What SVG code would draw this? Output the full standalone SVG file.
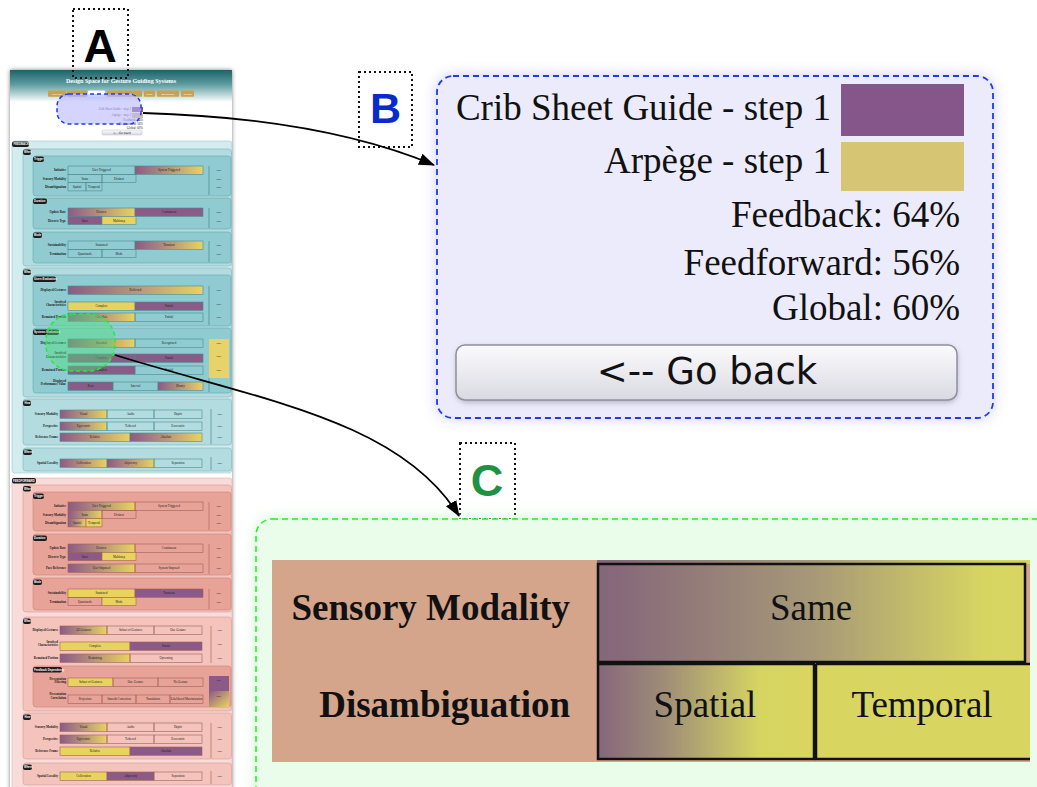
<svg xmlns="http://www.w3.org/2000/svg" width="1037" height="787" viewBox="0 0 1037 787">
<defs>
<style>
.l{font-family:"Liberation Serif",serif;font-size:3.1px;font-weight:bold;fill:#1a1a1a;text-anchor:end}
.t{font-family:"Liberation Serif",serif;font-size:3.1px;fill:#222;text-anchor:middle}
.n{font-family:"Liberation Serif",serif;font-size:2.6px;fill:#333;text-anchor:middle}
.pl{fill:#1c1c1c}
.pt{font-family:"Liberation Sans",sans-serif;font-size:2.8px;font-weight:bold;fill:#fff}
.ob{fill:none;stroke:#4b8d93;stroke-width:0.6}
.of{fill:none;stroke:#a45f55;stroke-width:0.6}
.P{fill:#8b5a86}
.Y{fill:#e8d35f}
.G{fill:url(#gpy)}
.vb{stroke:#3d7c82;stroke-width:0.6}
.vf{stroke:#a45f55;stroke-width:0.6}
.fbo{fill:#d3ecee;stroke:#9fc9cc;stroke-width:0.6}
.fb1{fill:#b2dcdf;stroke:#7fb5ba;stroke-width:0.6}
.fb2{fill:#8fcbd1;stroke:#6aa9ae;stroke-width:0.6}
.ffo{fill:#f8dcd9;stroke:#e0b0aa;stroke-width:0.6}
.ff1{fill:#f3c3bc;stroke:#d79c94;stroke-width:0.6}
.ff2{fill:#e8a398;stroke:#c9837a;stroke-width:0.6}
.nav{fill:#c9a24f}
.navt{font-family:"Liberation Sans",sans-serif;font-size:2.4px;fill:#fff;text-anchor:middle}
.lab{fill:none;stroke:#111;stroke-width:2;stroke-dasharray:2,3}
.big{font-family:"Liberation Sans",Arial,sans-serif;font-weight:bold;text-anchor:middle}
.bt{font-family:"Liberation Serif","Times New Roman",serif;font-size:37px;fill:#111}
.ct{font-family:"Liberation Serif","Times New Roman",serif;font-size:37px;fill:#111}
.conn{fill:none;stroke:#000;stroke-width:1.8}
</style>
<linearGradient id="gpy" x1="0" y1="0" x2="1" y2="0">
<stop offset="0" stop-color="#8c5a86"/><stop offset="0.5" stop-color="#b8957a"/><stop offset="1" stop-color="#e8d35f"/>
</linearGradient>
<linearGradient id="hdr" x1="0" y1="0" x2="0" y2="1">
<stop offset="0" stop-color="#1d6368"/><stop offset="0.45" stop-color="#5d9ca0"/><stop offset="1" stop-color="#ffffff"/>
</linearGradient>
<linearGradient id="gc" x1="0" y1="0" x2="1" y2="0">
<stop offset="0" stop-color="#85677b"/><stop offset="0.05" stop-color="#87697a"/><stop offset="0.5" stop-color="#a69878"/><stop offset="0.9" stop-color="#d6d562"/><stop offset="1" stop-color="#d8d660"/>
</linearGradient>
<linearGradient id="gs" x1="0" y1="0" x2="1" y2="0">
<stop offset="0" stop-color="#85677b"/><stop offset="0.3" stop-color="#9e8c78"/><stop offset="0.75" stop-color="#d6d562"/><stop offset="1" stop-color="#d8d660"/>
</linearGradient>
<linearGradient id="btn" x1="0" y1="0" x2="0" y2="1">
<stop offset="0" stop-color="#fbfbfd"/><stop offset="1" stop-color="#d9d9e2"/>
</linearGradient>
<linearGradient id="gd" x1="0" y1="0" x2="1" y2="1">
<stop offset="0" stop-color="#8c5a86"/><stop offset="1" stop-color="#e8d35f"/>
</linearGradient>
<filter id="sh" x="-10%" y="-10%" width="120%" height="120%">
<feDropShadow dx="0" dy="0" stdDeviation="2" flood-color="#000" flood-opacity="0.5"/>
</filter>
<filter id="blur" x="-20%" y="-20%" width="140%" height="140%">
<feGaussianBlur stdDeviation="7"/>
</filter>
<filter id="blur2" x="-20%" y="-20%" width="140%" height="140%">
<feGaussianBlur stdDeviation="3"/>
</filter>
<marker id="ah" markerUnits="userSpaceOnUse" markerWidth="16" markerHeight="12" refX="15" refY="6" orient="auto">
<path d="M0,0 L16,6 L0,12 z" fill="#000"/>
</marker>
</defs>
<rect width="1037" height="787" fill="#fff"/>

<!-- Panel A: page thumbnail -->
<g id="panelA">
<rect x="10" y="70" width="222" height="730" fill="#fff" filter="url(#sh)"/>
<rect x="10" y="70" width="222" height="32" fill="url(#hdr)"/>
<text x="121" y="83" font-family="Liberation Serif,serif" font-size="6" font-weight="bold" fill="#fff" text-anchor="middle" textLength="110" lengthAdjust="spacingAndGlyphs">Design Space for Gesture Guiding Systems</text>
<g>
<rect class="nav" x="48" y="90.5" width="18" height="6.2" rx="0.8"/><text class="navt" x="57" y="94.6">Overview</text>
<rect class="nav" x="67" y="90.5" width="20" height="6.2" rx="0.8"/><text class="navt" x="77" y="94.6">Description</text>
<rect x="88" y="90.5" width="17" height="6.2" rx="0.8" fill="#fff" stroke="#ccc" stroke-width="0.3"/><text class="navt" x="96.5" y="94.6" fill="#777" style="fill:#777">Compare</text>
<rect class="nav" x="107" y="90.5" width="35" height="6.2" rx="0.8"/><text class="navt" x="124.5" y="94.6">Design Space Editor</text>
<rect class="nav" x="144" y="90.5" width="11" height="6.2" rx="0.8"/><text class="navt" x="149.5" y="94.6">Guide</text>
<rect class="nav" x="157" y="90.5" width="22" height="6.2" rx="0.8"/><text class="navt" x="168" y="94.6">Bibliography</text>
<rect class="nav" x="181" y="90.5" width="13" height="6.2" rx="0.8"/><text class="navt" x="187.5" y="94.6">Contact</text>
</g>
<g font-family="Liberation Serif,serif" font-size="3.2" fill="#222" text-anchor="end">
<text x="131" y="110">Crib Sheet Guide - step 1</text>
<rect x="132" y="107" width="11" height="5" fill="#85568a"/>
<text x="131" y="116">Arpège - step 1</text>
<rect x="132" y="113" width="11" height="5" fill="#d6c573"/>
<text x="143" y="120.5">Feedback: 64%</text>
<text x="143" y="124.5">Feedforward: 56%</text>
<text x="143" y="128.5">Global: 60%</text>
<rect x="102" y="130" width="40" height="5" rx="1.5" fill="url(#btn)" stroke="#999" stroke-width="0.3"/>
<text x="122" y="133.6" text-anchor="middle" font-family="DejaVu Sans,sans-serif" font-size="3">&lt;-- Go back</text>
</g>

<!-- FEEDBACK -->
<rect class="fbo" x="12" y="141" width="220" height="332" rx="3"/>
<rect class="pl" x="12" y="141.5" width="17" height="5.5" rx="2"/><text class="pt" x="13.5" y="145.3" font-size="2.6">FEEDBACK</text>
<rect class="fb1" x="23" y="149" width="208.5" height="117" rx="3"/>
<rect class="pl" x="23" y="149.5" width="8" height="5.5" rx="2"/><text class="pt" x="24" y="153.3">When</text>

<rect class="fb2" x="33" y="156" width="198" height="40" rx="3"/>
<rect class="pl" x="33" y="156.5" width="11" height="5.5" rx="2"/><text class="pt" x="34" y="160.3">Trigger</text>
<text class="l" x="66" y="171.4">Initiative</text>
<rect class="ob" x="68" y="166" width="67" height="8.3"/><text class="t" x="101.5" y="171.4">User Triggered</text>
<rect class="ob G" x="135" y="166" width="68" height="8.3"/><text class="t" x="169" y="171.4">System Triggered</text>
<text class="l" x="66" y="179.7">Sensory Modality</text>
<rect class="ob" x="68" y="174.3" width="34" height="8.3"/><text class="t" x="85" y="179.7">Same</text>
<rect class="ob" x="102" y="174.3" width="34" height="8.3"/><text class="t" x="119" y="179.7">Distinct</text>
<text class="l" x="66" y="188">Disambiguation</text>
<rect class="ob" x="68" y="182.6" width="18" height="8.3"/><text class="t" x="77" y="188">Spatial</text>
<rect class="ob" x="86" y="182.6" width="16" height="8.3"/><text class="t" x="94" y="188">Temporal</text>
<line class="vb" x1="209" y1="166" x2="209" y2="195"/>
<text class="n" x="219" y="171.4">none</text><text class="n" x="219" y="179.7">none</text><text class="n" x="219" y="188">none</text>

<rect class="fb2" x="33" y="198" width="198" height="31" rx="3"/>
<rect class="pl" x="33" y="198.5" width="14" height="5.5" rx="2"/><text class="pt" x="34" y="202.3">Duration</text>
<text class="l" x="66" y="213.4">Update Rate</text>
<rect class="ob G" x="68" y="208" width="67" height="8.3"/><text class="t" x="101.5" y="213.4">Discrete</text>
<rect class="ob P" x="135" y="208" width="68" height="8.3"/><text class="t" x="169" y="213.4">Continuous</text>
<text class="l" x="66" y="221.7">Discrete Type</text>
<rect class="ob P" x="68" y="216.3" width="34" height="8.3"/><text class="t" x="85" y="221.7">Once</text>
<rect class="ob Y" x="102" y="216.3" width="34" height="8.3"/><text class="t" x="119" y="221.7">Multistep</text>
<line class="vb" x1="209" y1="208" x2="209" y2="228"/>
<text class="n" x="219" y="213.4">none</text><text class="n" x="219" y="221.7">none</text>

<rect class="fb2" x="33" y="232" width="198" height="31" rx="3"/>
<rect class="pl" x="33" y="232.5" width="9" height="5.5" rx="2"/><text class="pt" x="34" y="236.3">Mode</text>
<text class="l" x="66" y="246.4">Sustainability</text>
<rect class="ob" x="68" y="241" width="67" height="8.3"/><text class="t" x="101.5" y="246.4">Sustained</text>
<rect class="ob G" x="135" y="241" width="68" height="8.3"/><text class="t" x="169" y="246.4">Transient</text>
<text class="l" x="66" y="254.7">Termination</text>
<rect class="ob" x="68" y="249.3" width="34" height="8.3"/><text class="t" x="85" y="254.7">Quasimode</text>
<rect class="ob" x="102" y="249.3" width="34" height="8.3"/><text class="t" x="119" y="254.7">Mode</text>
<line class="vb" x1="209" y1="241" x2="209" y2="262"/>
<text class="n" x="219" y="246.4">none</text><text class="n" x="219" y="254.7">none</text>

<rect class="fb1" x="23" y="268" width="208.5" height="129" rx="3"/>
<rect class="pl" x="23" y="269.5" width="8" height="5.5" rx="2"/><text class="pt" x="24" y="273.3">What</text>
<rect class="fb2" x="33" y="275" width="198" height="51" rx="3"/>
<rect class="pl" x="33" y="276.5" width="23" height="5.5" rx="2"/><text class="pt" x="34" y="280.3">Users Evaluation</text>
<text class="l" x="66" y="291.4">Displayed Gestures</text>
<rect class="ob G" x="68" y="286" width="135" height="8.3"/><text class="t" x="135.5" y="291.4">Reflected</text>
<text class="l" x="66" y="302.5">Involved</text><text class="l" x="66" y="306">Characteristics</text>
<rect class="ob Y" x="68" y="302" width="67" height="8.3"/><text class="t" x="101.5" y="307.4">Complete</text>
<rect class="ob P" x="135" y="302" width="68" height="8.3"/><text class="t" x="169" y="307.4">Partial</text>
<text class="l" x="66" y="318.4">Remained Portion</text>
<rect class="ob G" x="68" y="313" width="67" height="8.3"/><text class="t" x="101.5" y="318.4">Complete</text>
<rect class="ob" x="135" y="313" width="68" height="8.3"/><text class="t" x="169" y="318.4">Partial</text>
<line class="vb" x1="209" y1="286" x2="209" y2="325"/>
<text class="n" x="219" y="291.4">none</text><text class="n" x="219" y="305">none</text><text class="n" x="219" y="318.4">none</text>

<rect class="fb2" x="33" y="328" width="198" height="65" rx="3"/>
<rect class="pl" x="33" y="329.5" width="26" height="5.5" rx="2"/><text class="pt" x="34" y="333.3">Systems Evaluation</text>
<text class="l" x="66" y="344.4">Displayed Gestures</text>
<rect class="ob G" x="68" y="339" width="67" height="8.3"/><text class="t" x="101.5" y="344.4">Intended</text>
<rect class="ob" x="135" y="339" width="68" height="8.3"/><text class="t" x="169" y="344.4">Recognized</text>
<text class="l" x="66" y="354">Involved</text><text class="l" x="66" y="357.5">Characteristics</text>
<rect class="ob P" x="68" y="354" width="67" height="8.3"/><text class="t" x="101.5" y="359.4">Complete</text>
<rect class="ob P" x="135" y="354" width="68" height="8.3"/><text class="t" x="169" y="359.4">Partial</text>
<text class="l" x="66" y="371.4">Remained Portion</text>
<rect class="ob P" x="68" y="366" width="67" height="8.3"/><text class="t" x="101.5" y="371.4">Complete</text>
<rect class="ob" x="135" y="366" width="68" height="8.3"/><text class="t" x="169" y="371.4">Partial</text>
<text class="l" x="66" y="381.5">Displayed</text><text class="l" x="66" y="385">Performance Value</text>
<rect class="ob P" x="68" y="382" width="45" height="8.3"/><text class="t" x="90.5" y="387.4">Best</text>
<rect class="ob" x="113" y="382" width="45" height="8.3"/><text class="t" x="135.5" y="387.4">Interval</text>
<rect class="ob G" x="158" y="382" width="45" height="8.3"/><text class="t" x="180.5" y="387.4">Binary</text>
<rect x="209" y="339" width="20" height="39" fill="#e8d36a"/>
<line class="vb" x1="209" y1="378" x2="209" y2="392"/>
<text class="n" x="219" y="344.4">none</text><text class="n" x="219" y="357">none</text><text class="n" x="219" y="371.4">none</text><text class="n" x="219" y="385">none</text>

<rect class="fb1" x="23" y="399" width="208.5" height="46" rx="3"/>
<rect class="pl" x="23" y="400.5" width="8" height="5.5" rx="2"/><text class="pt" x="24.5" y="404.3">How</text>
<text class="l" x="58" y="415.4">Sensory Modality</text>
<rect class="ob G" x="60" y="410" width="47" height="8.3"/><text class="t" x="83.5" y="415.4">Visual</text>
<rect class="ob" x="107" y="410" width="47" height="8.3"/><text class="t" x="130.5" y="415.4">Audio</text>
<rect class="ob" x="154" y="410" width="48" height="8.3"/><text class="t" x="178" y="415.4">Haptic</text>
<text class="l" x="58" y="427.4">Perspective</text>
<rect class="ob G" x="60" y="422" width="47" height="8.3"/><text class="t" x="83.5" y="427.4">Egocentric</text>
<rect class="ob" x="107" y="422" width="47" height="8.3"/><text class="t" x="130.5" y="427.4">Tethered</text>
<rect class="ob" x="154" y="422" width="48" height="8.3"/><text class="t" x="178" y="427.4">Exocentric</text>
<text class="l" x="58" y="438.4">Reference Frame</text>
<rect class="ob G" x="60" y="433" width="70" height="8.3"/><text class="t" x="95" y="438.4">Relative</text>
<rect class="ob G" x="130" y="433" width="72" height="8.3"/><text class="t" x="166" y="438.4">Absolute</text>
<line class="vb" x1="211" y1="409" x2="211" y2="444"/>
<text class="n" x="220" y="415.4">none</text><text class="n" x="220" y="427.4">none</text><text class="n" x="220" y="438.4">none</text>

<rect class="fb1" x="23" y="448" width="208.5" height="23" rx="3"/>
<rect class="pl" x="23" y="449.5" width="9" height="5.5" rx="2"/><text class="pt" x="24" y="453.3">Where</text>
<text class="l" x="58" y="464.4">Spatial Locality</text>
<rect class="ob G" x="60" y="459" width="47" height="8.3"/><text class="t" x="83.5" y="464.4">Collocation</text>
<rect class="ob G" x="107" y="459" width="47" height="8.3"/><text class="t" x="130.5" y="464.4">Adjacency</text>
<rect class="ob" x="154" y="459" width="48" height="8.3"/><text class="t" x="178" y="464.4">Separation</text>
<line class="vb" x1="211" y1="457" x2="211" y2="470"/>
<text class="n" x="220" y="464.4">none</text>

<!-- FEEDFORWARD -->
<rect class="ffo" x="12" y="478" width="220" height="320" rx="3"/>
<rect class="pl" x="12" y="478" width="24" height="5.5" rx="2"/><text class="pt" x="13" y="481.8" font-size="2.5">FEEDFORWARD</text>
<rect class="ff1" x="23" y="485" width="208.5" height="127" rx="3"/>
<rect class="pl" x="23" y="486" width="8" height="5.5" rx="2"/><text class="pt" x="24" y="489.8">When</text>

<rect class="ff2" x="33" y="492" width="198" height="39" rx="3"/>
<rect class="pl" x="33" y="493.5" width="11" height="5.5" rx="2"/><text class="pt" x="34" y="497.3">Trigger</text>
<text class="l" x="66" y="507.4">Initiative</text>
<rect class="of G" x="68" y="502" width="67" height="8.3"/><text class="t" x="101.5" y="507.4">User Triggered</text>
<rect class="of" x="135" y="502" width="68" height="8.3"/><text class="t" x="169" y="507.4">System Triggered</text>
<text class="l" x="66" y="515.7">Sensory Modality</text>
<rect class="of G" x="68" y="510.3" width="34" height="8.3"/><text class="t" x="85" y="515.7">Same</text>
<rect class="of" x="102" y="510.3" width="34" height="8.3"/><text class="t" x="119" y="515.7">Distinct</text>
<text class="l" x="66" y="524">Disambiguation</text>
<rect class="of G" x="68" y="518.6" width="18" height="8.3"/><text class="t" x="77" y="524">Spatial</text>
<rect class="of Y" x="86" y="518.6" width="16" height="8.3"/><text class="t" x="94" y="524">Temporal</text>
<line class="vf" x1="209" y1="502" x2="209" y2="530"/>
<text class="n" x="219" y="507.4">none</text><text class="n" x="219" y="515.7">none</text><text class="n" x="219" y="524">none</text>

<rect class="ff2" x="33" y="534" width="198" height="41" rx="3"/>
<rect class="pl" x="33" y="535.5" width="14" height="5.5" rx="2"/><text class="pt" x="34" y="539.3">Duration</text>
<text class="l" x="66" y="549.4">Update Rate</text>
<rect class="of G" x="68" y="544" width="67" height="8.3"/><text class="t" x="101.5" y="549.4">Discrete</text>
<rect class="of" x="135" y="544" width="68" height="8.3"/><text class="t" x="169" y="549.4">Continuous</text>
<text class="l" x="66" y="557.7">Discrete Type</text>
<rect class="of P" x="68" y="552.3" width="34" height="8.3"/><text class="t" x="85" y="557.7">Once</text>
<rect class="of Y" x="102" y="552.3" width="34" height="8.3"/><text class="t" x="119" y="557.7">Multistep</text>
<text class="l" x="66" y="569.4">Pace Reference</text>
<rect class="of G" x="68" y="564" width="67" height="8.3"/><text class="t" x="101.5" y="569.4">User-Imposed</text>
<rect class="of" x="135" y="564" width="68" height="8.3"/><text class="t" x="169" y="569.4">System-Imposed</text>
<line class="vf" x1="209" y1="544" x2="209" y2="574"/>
<text class="n" x="219" y="549.4">none</text><text class="n" x="219" y="557.7">none</text><text class="n" x="219" y="569.4">none</text>

<rect class="ff2" x="33" y="578" width="198" height="32" rx="3"/>
<rect class="pl" x="33" y="579.5" width="9" height="5.5" rx="2"/><text class="pt" x="34" y="583.3">Mode</text>
<text class="l" x="66" y="594.4">Sustainability</text>
<rect class="of Y" x="68" y="589" width="67" height="8.3"/><text class="t" x="101.5" y="594.4">Sustained</text>
<rect class="of P" x="135" y="589" width="68" height="8.3"/><text class="t" x="169" y="594.4">Transient</text>
<text class="l" x="66" y="602.7">Termination</text>
<rect class="of" x="68" y="597.3" width="34" height="8.3"/><text class="t" x="85" y="602.7">Quasimode</text>
<rect class="of Y" x="102" y="597.3" width="34" height="8.3"/><text class="t" x="119" y="602.7">Mode</text>
<line class="vf" x1="209" y1="589" x2="209" y2="609"/>
<text class="n" x="219" y="594.4">none</text><text class="n" x="219" y="602.7">none</text>

<rect class="ff1" x="23" y="617" width="208.5" height="94" rx="3"/>
<rect class="pl" x="23" y="618.5" width="8" height="5.5" rx="2"/><text class="pt" x="24" y="622.3">What</text>
<text class="l" x="58" y="631.4">Displayed Gestures</text>
<rect class="of G" x="60" y="626" width="47" height="8.3"/><text class="t" x="83.5" y="631.4">All Gestures</text>
<rect class="of" x="107" y="626" width="47" height="8.3"/><text class="t" x="130.5" y="631.4">Subset of Gestures</text>
<rect class="of" x="154" y="626" width="48" height="8.3"/><text class="t" x="178" y="631.4">One Gesture</text>
<text class="l" x="58" y="642.5">Involved</text><text class="l" x="58" y="646">Characteristics</text>
<rect class="of Y" x="60" y="642" width="70" height="8.3"/><text class="t" x="95" y="647.4">Complete</text>
<rect class="of P" x="130" y="642" width="72" height="8.3"/><text class="t" x="166" y="647.4">Partial</text>
<text class="l" x="58" y="659.4">Remained Portion</text>
<rect class="of G" x="60" y="654" width="70" height="8.3"/><text class="t" x="95" y="659.4">Remaining</text>
<rect class="of" x="130" y="654" width="72" height="8.3"/><text class="t" x="166" y="659.4">Upcoming</text>
<line class="vf" x1="211" y1="626" x2="211" y2="663"/>
<text class="n" x="220" y="631.4">none</text><text class="n" x="220" y="645">none</text><text class="n" x="220" y="659.4">none</text>

<rect class="ff2" x="33" y="666" width="198" height="41" rx="3"/>
<rect class="pl" x="33" y="667" width="29" height="5.5" rx="2"/><text class="pt" x="34" y="670.8">Feedback Dependency</text>
<text class="l" x="66" y="679.5">Presentation</text><text class="l" x="66" y="683">Filtering</text>
<rect class="of Y" x="68" y="678" width="45" height="8.3"/><text class="t" x="90.5" y="683.4">Subset of Gestures</text>
<rect class="of" x="113" y="678" width="45" height="8.3"/><text class="t" x="135.5" y="683.4">One Gesture</text>
<rect class="of" x="158" y="678" width="45" height="8.3"/><text class="t" x="180.5" y="683.4">No Gesture</text>
<text class="l" x="66" y="695">Presentation</text><text class="l" x="66" y="698.5">Correlation</text>
<rect class="of" x="68" y="695" width="34" height="8.3"/><text class="t" x="85" y="700.4">Projection</text>
<rect class="of" x="102" y="695" width="34" height="8.3"/><text class="t" x="119" y="700.4">Smooth Correction</text>
<rect class="of" x="136" y="695" width="34" height="8.3"/><text class="t" x="153" y="700.4">Translation</text>
<rect class="of" x="170" y="695" width="33" height="8.3"/><text class="t" x="186.5" y="700.4">Likelihood Maximization</text>
<rect x="209" y="676" width="20" height="15" fill="#8b5a86"/>
<rect x="209" y="691" width="20" height="16" fill="url(#gd)"/>
<text class="n" x="219" y="681">none</text><text class="n" x="219" y="697">none</text>

<rect class="ff1" x="23" y="713" width="208.5" height="46" rx="3"/>
<rect class="pl" x="23" y="714.5" width="8" height="5.5" rx="2"/><text class="pt" x="24.5" y="718.3">How</text>
<text class="l" x="58" y="728.4">Sensory Modality</text>
<rect class="of G" x="60" y="723" width="47" height="8.3"/><text class="t" x="83.5" y="728.4">Visual</text>
<rect class="of" x="107" y="723" width="47" height="8.3"/><text class="t" x="130.5" y="728.4">Audio</text>
<rect class="of" x="154" y="723" width="48" height="8.3"/><text class="t" x="178" y="728.4">Haptic</text>
<text class="l" x="58" y="740.4">Perspective</text>
<rect class="of G" x="60" y="735" width="47" height="8.3"/><text class="t" x="83.5" y="740.4">Egocentric</text>
<rect class="of" x="107" y="735" width="47" height="8.3"/><text class="t" x="130.5" y="740.4">Tethered</text>
<rect class="of" x="154" y="735" width="48" height="8.3"/><text class="t" x="178" y="740.4">Exocentric</text>
<text class="l" x="58" y="752.4">Reference Frame</text>
<rect class="of Y" x="60" y="747" width="70" height="8.3"/><text class="t" x="95" y="752.4">Relative</text>
<rect class="of P" x="130" y="747" width="72" height="8.3"/><text class="t" x="166" y="752.4">Absolute</text>
<line class="vf" x1="211" y1="723" x2="211" y2="758"/>
<text class="n" x="220" y="728.4">none</text><text class="n" x="220" y="740.4">none</text><text class="n" x="220" y="752.4">none</text>

<rect class="ff1" x="23" y="763" width="208.5" height="22" rx="3"/>
<rect class="pl" x="23" y="764.5" width="9" height="5.5" rx="2"/><text class="pt" x="24" y="768.3">Where</text>
<text class="l" x="58" y="777.4">Spatial Locality</text>
<rect class="of Y" x="60" y="772" width="47" height="8.3"/><text class="t" x="83.5" y="777.4">Collocation</text>
<rect class="of P" x="107" y="772" width="47" height="8.3"/><text class="t" x="130.5" y="777.4">Adjacency</text>
<rect class="of" x="154" y="772" width="48" height="8.3"/><text class="t" x="178" y="777.4">Separation</text>
<line class="vf" x1="211" y1="771" x2="211" y2="784"/>
<text class="n" x="220" y="777.4">none</text>

<!-- highlights -->
<rect x="57" y="94" width="84" height="30" rx="12" fill="#b8b8ff" fill-opacity="0.6" stroke="#1f3bf0" stroke-width="1.5" stroke-dasharray="4,3"/>
<rect x="46" y="314" width="69" height="57" rx="26" fill="#4fe07a" fill-opacity="0.45" stroke="#22ee33" stroke-width="1.5" stroke-dasharray="4,3"/>
</g>

<!-- Labels -->
<g id="labelA">
<rect class="lab" x="73" y="9" width="55" height="69"/>
<text class="big" x="100" y="62" font-size="46" fill="#000">A</text>
</g>
<g id="labelB">
<rect class="lab" x="359" y="72" width="53" height="75"/>
<text class="big" x="385.5" y="123" font-size="43" fill="#0a2bcc">B</text>
</g>
<g id="labelC">
<rect class="lab" x="460" y="443" width="55" height="76"/>
<text class="big" x="487" y="496" font-size="45" fill="#1f9142">C</text>
</g>

<!-- Panel B -->
<g id="panelB">
<rect x="437" y="76" width="556" height="342" rx="16" fill="#c9c9f6" filter="url(#blur)"/>
<rect x="437" y="76" width="556" height="342" rx="16" fill="#ebebfb" stroke="#1f3bf0" stroke-width="1.8" stroke-dasharray="6,4"/>
<text class="bt" x="831" y="120" text-anchor="end">Crib Sheet Guide - step 1</text>
<rect x="841" y="84" width="123" height="52" fill="#85568a"/>
<text class="bt" x="831" y="173" text-anchor="end">Arpège - step 1</text>
<rect x="841" y="142" width="123" height="49" fill="#d6c573"/>
<text class="bt" x="960" y="227" text-anchor="end">Feedback: 64%</text>
<text class="bt" x="960" y="275" text-anchor="end">Feedforward: 56%</text>
<text class="bt" x="960" y="320" text-anchor="end">Global: 60%</text>
<rect x="457" y="347" width="500" height="55" rx="9" fill="#a8a8b8" filter="url(#blur2)"/>
<rect x="456" y="345" width="501" height="55" rx="9" fill="url(#btn)" stroke="#8e8e9e" stroke-width="1.5"/>
<text x="707" y="384" font-family="DejaVu Sans,sans-serif" font-size="37" fill="#111" text-anchor="middle">&lt;-- Go back</text>
</g>

<!-- Panel C -->
<g id="panelC">
<rect x="256" y="519" width="820" height="320" rx="16" fill="#c8f5cf" filter="url(#blur)"/>
<rect x="256" y="519" width="820" height="320" rx="16" fill="#eafcea" stroke="#22ee22" stroke-width="1.5" stroke-dasharray="6,4"/>
<rect x="272" y="560" width="758" height="202" fill="#d4a58a"/>
<rect x="597" y="560" width="433" height="4" fill="url(#gc)"/>
<rect x="598" y="564" width="427" height="98" fill="url(#gc)" stroke="#111" stroke-width="2.5"/>
<rect x="598" y="664" width="216" height="95" fill="url(#gs)" stroke="#111" stroke-width="2.5"/>
<rect x="816" y="664" width="214" height="95" fill="#d8d660"/>
<path d="M816,664 L1030,664 M816,664 L816,759 L1030,759" fill="none" stroke="#111" stroke-width="2.5"/>
<text class="ct" x="570" y="620" text-anchor="end" font-weight="bold">Sensory Modality</text>
<text class="ct" x="570" y="717" text-anchor="end" font-weight="bold">Disambiguation</text>
<text class="ct" x="811" y="620" text-anchor="middle">Same</text>
<text class="ct" x="705" y="717" text-anchor="middle">Spatial</text>
<text class="ct" x="922" y="717" text-anchor="middle">Temporal</text>
</g>

<!-- Connectors -->
<g id="connectors">
<path class="conn" d="M143,113 C250,116 350,130 434,165" marker-end="url(#ah)"/>
<path class="conn" d="M115,355 C260,400 400,420 459,516" marker-end="url(#ah)"/>
</g>
</svg>
